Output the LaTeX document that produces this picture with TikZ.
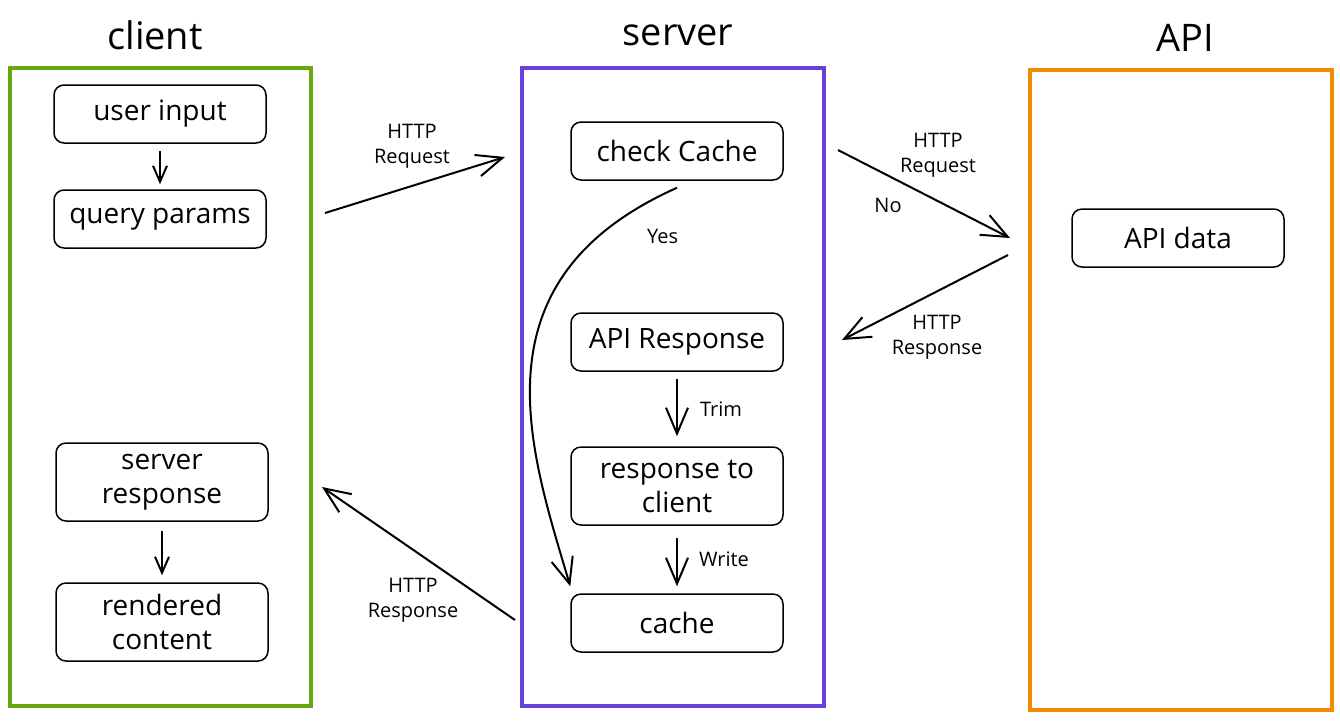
\documentclass[tikz,border=0pt]{standalone}
\usepackage{fontspec}
\setmainfont{Open Sans}
\usetikzlibrary{positioning,arrows.meta}
\definecolor{clientgreen}{HTML}{66A80F}
\definecolor{serverpurple}{HTML}{6741D9}
\definecolor{apiorange}{HTML}{F08C00}
\tikzset{%
  frame/.style={
    draw,
    line width=1.75pt,
    minimum width=151pt,
    minimum height=319pt
  },
  title/.style={
    font=\fontsize{19}{22}\selectfont
  },
  proc/.style={
    draw,
    rounded corners=5pt,
    line width=0.75pt,
    minimum width=106pt,
    minimum height=29pt,
    align=center,
    font=\fontsize{14}{17}\selectfont
  },
  tall/.style={minimum height=39pt},
  lbl/.style={
    font=\fontsize{10}{12.5}\selectfont,
    align=center,
    midway
  },
  flow/.style={-{Straight Barb[length=13pt,width=11pt]}, line width=1pt},
  small flow/.style={-{Straight Barb[length=8pt,width=7pt]}, line width=1pt},
}
\begin{document}
\begin{tikzpicture}[x=0.5pt,y=-0.5pt,on grid]
  \useasboundingbox (0,0) rectangle (1340,720);
  % frames and titles
  \node[frame,draw=clientgreen,minimum width=150.5pt] (client) at (160.5,387) {};
  \node[frame,draw=serverpurple] (server) at (673,387) {};
  \node[frame,draw=apiorange,minimum height=320pt] (api) at (1181,390) {};
  \node[title] (client title) at (155,35) {client};
  \node[title] (server title) at (678,35) {server};
  \node[title] (api title) at (1185,38) {API};

  % client
  \node[proc] (user) at (160,114) {user input};
  \node[proc] (query) [below=52.5pt of user] {query params};
  \node[proc,tall] (srvresp) at (162,482) {server\\response};
  \node[proc,tall] (rendered) [below=70pt of srvresp] {rendered\\content};

  % server
  \node[proc] (check) at (677,151) {check Cache};
  \node[proc] (apiresp) [below=95.5pt of check] {API Response};
  \node[proc,tall] (toclient) [below=72pt of apiresp] {response to\\client};
  \node[proc] (cache) [below=68.5pt of toclient] {cache};

  % api
  \node[proc] (apidata) at (1178,238) {API data};

  % free ends of the http arrows
  \coordinate (req a) at (325,213);
  \coordinate (req b) at (505,157);
  \coordinate (no a) at (838,150);
  \coordinate (no b) at (1010,238);
  \coordinate (res a) at (1008,255);
  \coordinate (res b) at (842,340);
  \coordinate (back a) at (515,620);
  \coordinate (back b) at (322,487);

  \path[small flow]
    (user) edge[shorten <=3.5pt, shorten >=2.5pt] (query)
    (srvresp) edge[shorten <=4.5pt, shorten >=3.5pt] (rendered);
  \path[flow]
    (apiresp) edge[shorten <=3.5pt, shorten >=5pt] node[lbl,xshift=22pt] {Trim} (toclient)
    (toclient) edge[shorten <=6pt, shorten >=3.5pt] node[lbl,xshift=23.5pt] {Write} (cache)
    (req a) edge node[lbl,xshift=-1.5pt,yshift=19.5pt] {HTTP\\Request} (req b)
    (no a) edge node[lbl,xshift=7pt,yshift=19.5pt] {HTTP\\Request}
                node[lbl,xshift=-18pt,yshift=-5.5pt] {No} (no b)
    (res a) edge node[lbl,xshift=6pt,yshift=-19.75pt] {HTTP\\Response} (res b)
    (back a) edge node[lbl,xshift=-2.75pt,yshift=-23.25pt] {HTTP\\Response} (back b);
  \draw[flow] ([yshift=-3.5pt]check.south) .. controls (470,280) and (530,450) ..
    ([yshift=3.5pt]cache.north west) node[lbl,pos=0.1,xshift=20pt,yshift=-9.5pt] {Yes};
\end{tikzpicture}
\end{document}
